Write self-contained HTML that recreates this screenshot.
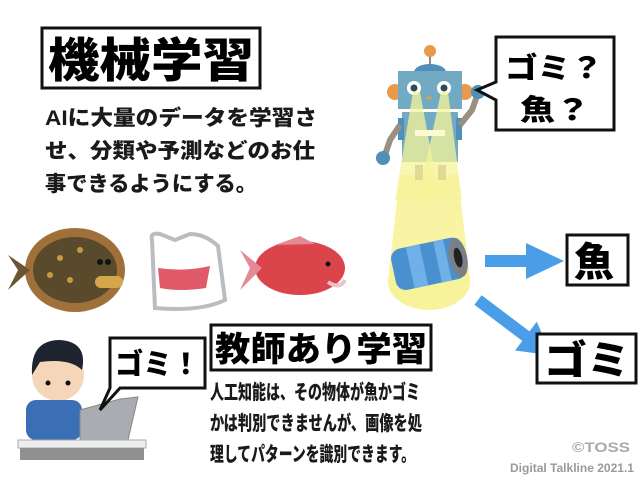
<!DOCTYPE html>
<html><head><meta charset="utf-8"><style>
html,body{margin:0;padding:0;background:#fff;width:640px;height:480px;overflow:hidden}
svg{display:block}
text{font-family:"Liberation Sans","Noto Sans CJK JP",sans-serif;font-weight:900}
</style></head><body>
<svg width="640" height="480" viewBox="0 0 640 480" xmlns="http://www.w3.org/2000/svg">
<rect x="42" y="28" width="218" height="60" fill="#fff" stroke="#111" stroke-width="3"/>
<text x="48" y="77" font-size="47" fill="#000" textLength="206" lengthAdjust="spacingAndGlyphs">機械学習</text>
<text font-size="21" fill="#1a1a1a"><tspan x="45" y="125" textLength="272" lengthAdjust="spacingAndGlyphs">AIに大量のデータを学習さ</tspan><tspan x="45" y="158" textLength="270" lengthAdjust="spacingAndGlyphs">せ、分類や予測などのお仕</tspan><tspan x="45" y="191" textLength="212" lengthAdjust="spacingAndGlyphs">事できるようにする。</tspan></text>

<polygon points="400,175 458,175 470,280 388,280" fill="#f7f39a" opacity="0.9"/>
<ellipse cx="429" cy="282" rx="41" ry="28" fill="#f7f39a"/>
<line x1="430" y1="54" x2="430" y2="68" stroke="#888" stroke-width="2"/>
<circle cx="430" cy="51" r="6" fill="#e89a4a"/>
<ellipse cx="430" cy="72" rx="16" ry="8" fill="#4f8fb8"/>
<circle cx="395" cy="92" r="8" fill="#e89a4a"/><circle cx="465" cy="92" r="8" fill="#e89a4a"/>
<rect x="398" y="71" width="64" height="38" fill="#73aac3"/>
<circle cx="414" cy="88" r="7" fill="#fff"/><circle cx="414" cy="88" r="3.5" fill="#2f4a55"/>
<circle cx="444" cy="88" r="7" fill="#fff"/><circle cx="444" cy="88" r="3.5" fill="#2f4a55"/>
<polygon points="426,99 432,99 429,95" fill="#e8a030"/>
<rect x="402" y="112" width="56" height="50" fill="#73aac3"/>
<rect x="398" y="118" width="6" height="22" fill="#4f8fb8"/><rect x="456" y="118" width="6" height="22" fill="#4f8fb8"/>
<path d="M400,125 L390,140 L385,155" stroke="#9a8f80" stroke-width="6" fill="none"/>
<path d="M460,125 L472,110 L477,96" stroke="#9a8f80" stroke-width="6" fill="none"/>
<circle cx="383" cy="158" r="7" fill="#4f8fb8"/><circle cx="478" cy="92" r="7" fill="#4f8fb8"/>
<rect x="415" y="165" width="8" height="15" fill="#9a8f80"/><rect x="438" y="165" width="8" height="15" fill="#9a8f80"/>
<polygon points="413,92 420,92 440,200 395,200" fill="#f7f39a" opacity="0.75"/>
<polygon points="441,92 448,92 462,200 418,200" fill="#f7f39a" opacity="0.75"/>
<rect x="415" y="130" width="30" height="6" fill="#fffbd0"/>
<g transform="rotate(-12 428 265)">
<rect x="393" y="243" width="72" height="42" rx="10" fill="#4a8fd0"/>
<rect x="410" y="243" width="14" height="42" fill="#6fb0e6"/>
<rect x="438" y="243" width="10" height="42" fill="#6fb0e6"/>
<ellipse cx="459" cy="264" rx="9" ry="20" fill="#7a8088"/>
<ellipse cx="459" cy="264" rx="4" ry="10" fill="#222"/>
</g>
<path d="M496,37 H614 V130 H496 V100 L477,90 L496,82 Z" fill="#fff" stroke="#111" stroke-width="3"/>
<text x="505" y="78" font-size="29" textLength="98" lengthAdjust="spacingAndGlyphs">ゴミ？</text>
<text x="520" y="120" font-size="29" textLength="70" lengthAdjust="spacingAndGlyphs">魚？</text>
<polygon points="485,255 526,255 526,243 564,261 526,279 526,267 485,267" fill="#4a9ee8"/>
<g transform="translate(478,300) rotate(37)">
<polygon points="0,-6 60,-6 60,-18 92,0 60,18 60,6 0,6" fill="#4a9ee8"/>
</g>
<rect x="567" y="235" width="61" height="50" fill="#fff" stroke="#111" stroke-width="3"/>
<text x="574" y="276" font-size="40">魚</text>
<rect x="537" y="334" width="99" height="49" fill="#fff" stroke="#111" stroke-width="3"/>
<text x="544" y="374" font-size="40" textLength="86" lengthAdjust="spacingAndGlyphs">ゴミ</text>

<ellipse cx="75" cy="270" rx="50" ry="42" fill="#a0703a"/>
<ellipse cx="75" cy="270" rx="42" ry="33" fill="#5a4a2c"/>
<polygon points="30,270 8,255 18,270 8,290" fill="#6b5534"/>
<circle cx="60" cy="258" r="3" fill="#c89a40"/><circle cx="80" cy="250" r="3" fill="#c89a40"/><circle cx="50" cy="275" r="3" fill="#c89a40"/><circle cx="70" cy="280" r="3" fill="#c89a40"/>
<rect x="95" y="276" width="28" height="12" rx="6" fill="#d6a64a"/>
<circle cx="100" cy="262" r="3" fill="#111"/><circle cx="108" cy="262" r="3" fill="#111"/>
<path d="M152,240 Q150,232 160,234 L175,240 L190,234 Q205,234 218,246 L225,300 Q200,312 155,308 Z" fill="#fff" stroke="#b9bcc0" stroke-width="4"/>
<path d="M158,268 Q185,272 210,266 L206,288 Q180,292 160,288 Z" fill="#e05a6a"/>
<ellipse cx="300" cy="268" rx="45" ry="27" fill="#d9454a"/>
<polygon points="262,268 240,250 250,268 240,290" fill="#e38a96"/>
<polygon points="275,245 300,236 315,244" fill="#e38a96"/>
<circle cx="328" cy="264" r="2.5" fill="#111"/>
<path d="M328,282 Q340,290 345,280" stroke="#f0c0c8" stroke-width="4" fill="none"/>

<circle cx="58" cy="375" r="26" fill="#f6d6b8"/>
<path d="M32,375 Q30,340 60,340 Q88,342 82,370 Q70,358 40,362 Z" fill="#1e2530"/>
<circle cx="48" cy="383" r="2.5" fill="#111"/><circle cx="68" cy="383" r="2.5" fill="#111"/>
<rect x="26" y="400" width="56" height="40" rx="10" fill="#3a6fb5"/>
<polygon points="80,410 120,399 138,397 128,440 80,440" fill="#a9acb0" stroke="#888" stroke-width="1"/>
<rect x="18" y="440" width="128" height="8" fill="#eee" stroke="#aaa"/>
<rect x="20" y="448" width="124" height="12" fill="#8e9092"/>
<path d="M110,338 H205 V388 H120 L100,410 L110,388 Z" fill="#fff" stroke="#111" stroke-width="3"/>
<text x="115" y="374" font-size="29" textLength="85" lengthAdjust="spacingAndGlyphs">ゴミ！</text>

<rect x="211" y="325" width="220" height="45" fill="#fff" stroke="#111" stroke-width="3"/>
<text x="215" y="361" font-size="34" textLength="212" lengthAdjust="spacingAndGlyphs">教師あり学習</text>
<text font-size="20" fill="#1a1a1a"><tspan x="210" y="399" textLength="210" lengthAdjust="spacingAndGlyphs">人工知能は、その物体が魚かゴミ</tspan><tspan x="210" y="430" textLength="212" lengthAdjust="spacingAndGlyphs">かは判別できませんが、画像を処</tspan><tspan x="210" y="461" textLength="205" lengthAdjust="spacingAndGlyphs">理してパターンを識別できます。</tspan></text>

<text x="572" y="452" font-size="14" font-weight="700" fill="#aaa" textLength="58" lengthAdjust="spacingAndGlyphs">©TOSS</text>
<text x="510" y="472" font-size="12" font-weight="700" fill="#999" textLength="124" lengthAdjust="spacingAndGlyphs">Digital Talkline 2021.1</text>
</svg>
</body></html>
